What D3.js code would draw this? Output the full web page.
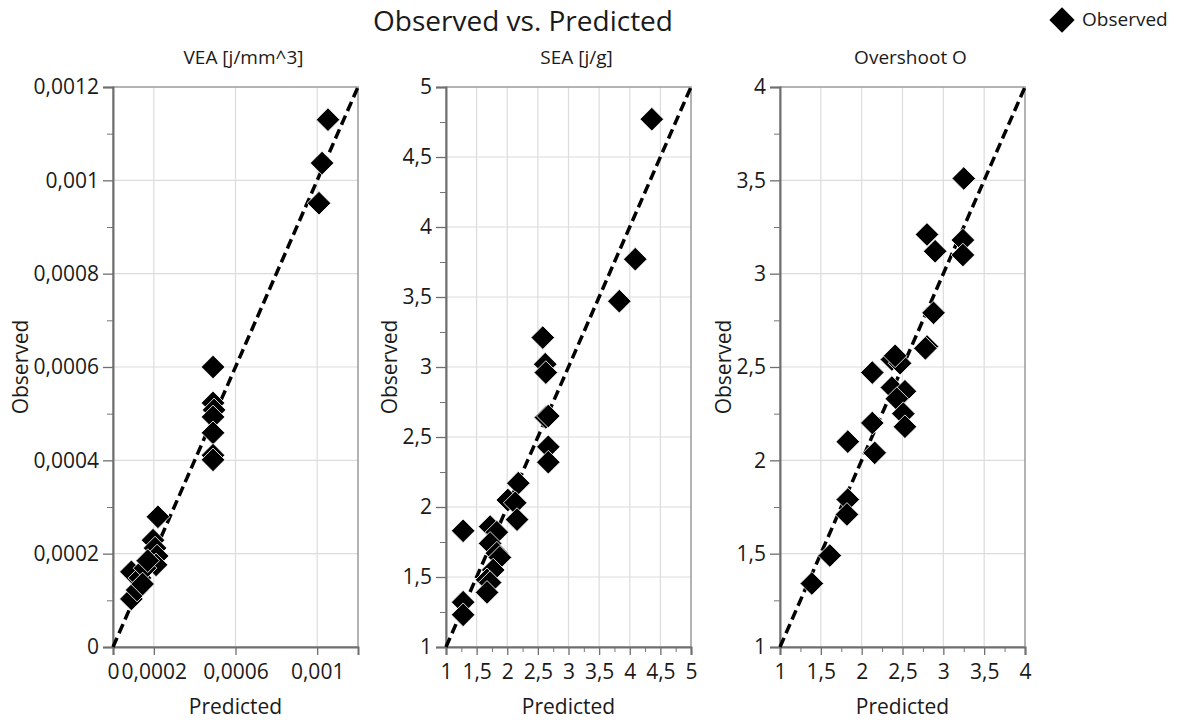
<!DOCTYPE html>
<html>
<head>
<meta charset="utf-8">
<script src="https://cdn.jsdelivr.net/npm/d3@7"></script>
<style>
  body { margin: 0; background: #fff; }
  text { font-family: "Open Sans", "Noto Sans", sans-serif; fill: #1a1a1a; }
</style>
</head>
<body>
<div id="chart"></div>
<script>
const width = 1182
const height = 720

// data (predicted, observed)
const veaPredicted = [0.001053, 0.001024, 0.001009, 0.00049, 0.00049, 0.000495, 0.00049, 0.00049, 0.00049, 0.00049,
  0.00022, 0.000196, 0.000206, 0.000216, 0.000211, 0.00009, 0.000132, 0.000157, 0.00009, 0.000118, 0.00017, 0.000145]
const veaObserved = [0.00113, 0.001037, 0.000951, 0.0006, 0.000523, 0.000508, 0.000493, 0.000459, 0.000411, 0.000401,
  0.000279, 0.000229, 0.000212, 0.000195, 0.000176, 0.000161, 0.000148, 0.000169, 0.000103, 0.000122, 0.000185, 0.000135]

const seaPredicted = [4.36, 4.09, 3.83, 2.58, 2.62, 2.63, 2.63, 2.67, 2.67, 2.67, 2.18, 2.01, 2.13, 2.16, 1.28,
  1.72, 1.83, 1.72, 1.83, 1.88, 1.77, 1.67, 1.72, 1.67, 1.28, 1.28]
const seaObserved = [4.77, 3.77, 3.47, 3.21, 3.02, 2.96, 2.64, 2.65, 2.43, 2.32, 2.17, 2.05, 2.03, 1.91, 1.83,
  1.86, 1.82, 1.74, 1.67, 1.64, 1.55, 1.48, 1.46, 1.39, 1.32, 1.23]

const overshootPredicted = [3.25, 2.80, 2.90, 3.24, 3.24, 2.88, 2.80, 2.78, 2.13, 2.37, 2.47, 2.41, 2.37, 2.53,
  2.43, 2.51, 2.53, 2.13, 1.83, 2.16, 1.83, 1.82, 1.61, 1.39]
const overshootObserved = [3.51, 3.21, 3.12, 3.18, 3.10, 2.79, 2.61, 2.60, 2.47, 2.54, 2.52, 2.56, 2.39, 2.37,
  2.33, 2.25, 2.18, 2.20, 2.10, 2.04, 1.79, 1.71, 1.49, 1.34]

// ticks
const veaYTicks = [0, 0.0002, 0.0004, 0.0006, 0.0008, 0.001, 0.0012]
const veaYMinor = [0.0001, 0.0003, 0.0005, 0.0007, 0.0009, 0.0011]
const veaXTicks = [0, 0.0002, 0.0006, 0.001]
const seaTicks = [1, 1.5, 2, 2.5, 3, 3.5, 4, 4.5, 5]
const seaMinor = [1.25, 1.75, 2.25, 2.75, 3.25, 3.75, 4.25, 4.75]
const overshootTicks = [1, 1.5, 2, 2.5, 3, 3.5, 4]
const overshootMinor = [1.25, 1.75, 2.25, 2.75, 3.25, 3.75]

const panelTitles = ['VEA [j/mm^3]', 'SEA [j/g]', 'Overshoot O']

const locale = d3.formatLocale({ decimal: ',', thousands: '.', grouping: [3], currency: ['', ''] })
const fmt = locale.format('~g')

const panels = [
  { title: panelTitles[0], pred: veaPredicted, obs: veaObserved, domain: [0, 0.0012],
    yTicks: veaYTicks, yMinor: veaYMinor, xTicks: veaXTicks, xMinor: [], left: 113 },
  { title: panelTitles[1], pred: seaPredicted, obs: seaObserved, domain: [1, 5],
    yTicks: seaTicks, yMinor: seaMinor, xTicks: seaTicks, xMinor: seaMinor, left: 446 },
  { title: panelTitles[2], pred: overshootPredicted, obs: overshootObserved, domain: [1, 4],
    yTicks: overshootTicks, yMinor: overshootMinor, xTicks: overshootTicks, xMinor: overshootMinor, left: 780 }
]

const plotW = 245
const plotTop = 87
const plotBottom = 647

const svg = d3.select('#chart').append('svg')
  .attr('width', width)
  .attr('height', height)

svg.append('text')
  .attr('x', 523).attr('y', 31)
  .attr('text-anchor', 'middle')
  .style('font-size', '28px')
  .text('Observed vs. Predicted')

const diamond = d3.symbol().type(d3.symbolSquare)

// legend
svg.append('path')
  .attr('d', d3.symbol().type(d3.symbolSquare).size(320)())
  .attr('transform', 'translate(1062,20) rotate(45)')
  .attr('fill', '#000')
svg.append('text')
  .attr('x', 1082).attr('y', 26)
  .style('font-size', '19px')
  .text('Observed')

panels.forEach((p) => {
  const x = d3.scaleLinear().domain(p.domain).range([p.left, p.left + plotW])
  const y = d3.scaleLinear().domain(p.domain).range([plotBottom, plotTop])
  const g = svg.append('g')

  // grid
  g.append('g')
    .selectAll('line').data(p.yTicks.slice(1, -1)).join('line')
    .attr('x1', p.left).attr('x2', p.left + plotW)
    .attr('y1', (d) => y(d)).attr('y2', (d) => y(d))
    .attr('stroke', '#dcdcdc').attr('stroke-width', 1.2)
  g.append('g')
    .selectAll('line').data(p.xTicks.filter((d) => d > p.domain[0] && d < p.domain[1])).join('line')
    .attr('y1', plotTop).attr('y2', plotBottom)
    .attr('x1', (d) => x(d)).attr('x2', (d) => x(d))
    .attr('stroke', '#dcdcdc').attr('stroke-width', 1.2)

  // frame
  g.append('rect')
    .attr('x', p.left).attr('y', plotTop)
    .attr('width', plotW).attr('height', plotBottom - plotTop)
    .attr('fill', 'none').attr('stroke', '#9a9a9a').attr('stroke-width', 1.5)

  // minor ticks
  g.append('g').attr('transform', `translate(${p.left},0)`)
    .call(d3.axisLeft(y).tickValues(p.yMinor).tickSize(6).tickFormat(''))
    .call((s) => s.select('.domain').remove())
    .selectAll('line').attr('stroke', '#777')
  if (p.xMinor.length) {
    g.append('g').attr('transform', `translate(0,${plotBottom})`)
      .call(d3.axisBottom(x).tickValues(p.xMinor).tickSize(5).tickFormat(''))
      .call((s) => s.select('.domain').remove())
      .selectAll('line').attr('stroke', '#777')
  }

  // major axes
  const ya = g.append('g').attr('transform', `translate(${p.left},0)`)
    .call(d3.axisLeft(y).tickValues(p.yTicks).tickSize(10).tickPadding(4).tickFormat(fmt))
  const xa = g.append('g').attr('transform', `translate(0,${plotBottom})`)
    .call(d3.axisBottom(x).tickValues(p.xTicks).tickSize(8).tickPadding(9).tickFormat(fmt))
  ;[ya, xa].forEach((a) => {
    a.select('.domain').attr('stroke', '#6f6f6f').attr('stroke-width', 2)
    a.selectAll('line').attr('stroke', '#6f6f6f').attr('stroke-width', 1.3)
    a.selectAll('text').style('font-size', '21px').style('font-family', '"Open Sans", sans-serif').attr('fill', '#1a1a1a')
  })

  // identity line
  g.append('line')
    .attr('x1', x(p.domain[0])).attr('y1', y(p.domain[0]))
    .attr('x2', x(p.domain[1])).attr('y2', y(p.domain[1]))
    .attr('stroke', '#000').attr('stroke-width', 3.5)
    .attr('stroke-dasharray', '10,5')

  // points
  g.append('g')
    .selectAll('path').data(p.pred.map((d, i) => [d, p.obs[i]])).join('path')
    .attr('d', diamond.size(280)())
    .attr('transform', (d) => `translate(${x(d[0])},${y(d[1])}) rotate(45)`)
    .attr('fill', '#000').attr('stroke', '#fff').attr('stroke-width', 0.8)

  // titles
  g.append('text')
    .attr('x', p.left + plotW / 2 + 8).attr('y', 64)
    .attr('text-anchor', 'middle')
    .style('font-size', '19px')
    .text(p.title)

  g.append('text')
    .attr('x', p.left + plotW / 2).attr('y', 714)
    .attr('text-anchor', 'middle')
    .style('font-size', '21px')
    .text('Predicted')

  const bb = ya.node().getBBox()
  g.append('text')
    .attr('transform', `translate(${p.left + bb.x - 6},${(plotTop + plotBottom) / 2}) rotate(-90)`)
    .attr('text-anchor', 'middle')
    .style('font-size', '21px')
    .text('Observed')
})
</script>
</body>
</html>
